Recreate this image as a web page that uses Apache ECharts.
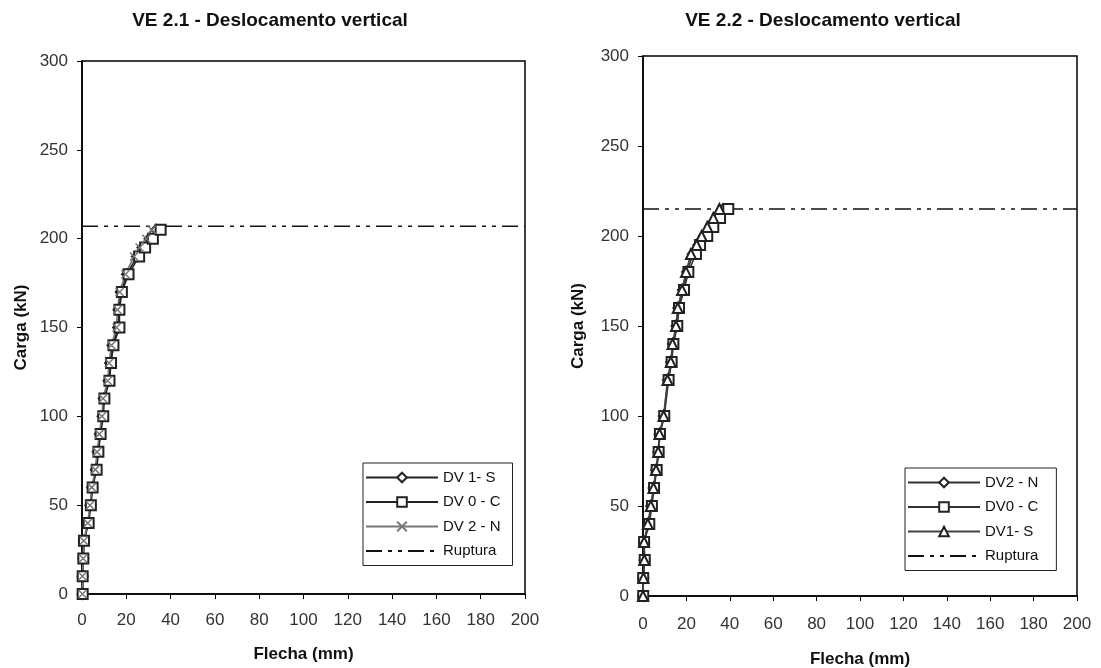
<!DOCTYPE html>
<html><head><meta charset="utf-8">
<script src="https://cdn.jsdelivr.net/npm/echarts@6/dist/echarts.min.js"></script>
<style>html,body{margin:0;padding:0;background:#fff}#c{width:1101px;height:668px}</style>
</head><body><div id="c"></div>
<script>
// ---- Data: VE 2.1 (left) ----
const leftTitle = 'VE 2.1 - Deslocamento vertical';
const leftLoad = [0,10,20,30,40,50,60,70,80,90,100,110,120,130,140,150,160,170,180,190,195,200,205];
const leftDV1S = [0.3,0.3,0.6,0.9,2.8,3.8,4.6,6.3,7.1,8.1,9.3,9.8,12.0,12.7,13.8,16.3,16.5,17.5,20.3,24.8,27.3,30.5,33.5];
const leftDV0C = [0.3,0.3,0.6,0.9,3.0,4.0,4.8,6.6,7.4,8.4,9.6,10.1,12.4,13.1,14.2,16.9,16.9,18.0,21.0,25.8,28.5,32.0,35.5];
const leftDV2N = [0.2,0.2,0.5,0.8,2.6,3.6,4.4,6.0,6.8,7.8,9.0,9.5,11.6,12.2,13.3,15.6,16.0,17.0,19.6,23.5,26.0,29.0,31.5];
const leftRupture = 207;
const leftNames = ['DV 1- S','DV 0 - C','DV 2 - N','Ruptura'];

// ---- Data: VE 2.2 (right) ----
const rightTitle = 'VE 2.2 - Deslocamento vertical';
const rightLoad = [0,10,20,30,40,50,60,70,80,90,100,120,130,140,150,160,170,180,190,195,200,205,210,215];
const rightDV2N = [0.1,0.1,0.7,0.5,2.5,3.8,4.9,6.1,7.1,7.7,9.6,11.5,13.0,13.8,15.5,16.3,18.4,20.3,23.0,25.5,28.0,31.0,34.0,37.0];
const rightDV0C = [0.1,0.1,0.8,0.5,2.9,4.1,5.1,6.3,7.2,7.8,9.8,11.8,13.2,14.0,15.8,16.6,18.9,20.9,24.4,26.3,29.6,32.4,35.5,39.3];
const rightDV1S = [0.0,0.2,0.6,0.5,2.2,3.6,4.8,6.0,7.0,7.6,9.5,11.3,12.8,13.6,15.2,16.0,18.0,19.8,22.1,24.7,27.0,29.6,32.4,35.2];
const rightRupture = 215;
const rightNames = ['DV2 - N','DV0 - C','DV1- S','Ruptura'];

const xTicks = {min:0,max:200,interval:20};
const yTicks = {min:0,max:300,interval:50};
const xName = 'Flecha (mm)';
const yName = 'Carga (kN)';

function pairs(xs, ys){ return xs.map((x,i)=>[x, ys[i]]); }

const FONT = 'Liberation Sans, Arial, sans-serif';
const crossPath = 'path://M0,0L10,10M10,0L0,10';
const ruptDash = [16,6,4,6,4,6];

function mkSeries(name, data, symbol, idx, lineColor, symSize){
  const isCross = symbol === crossPath;
  return {
    name, type:'line', data, xAxisIndex:idx, yAxisIndex:idx,
    symbol, symbolSize: symSize || 10, showSymbol:true,
    lineStyle:{color:lineColor, width:1.6},
    itemStyle: isCross ? {color:'none', borderColor:lineColor, borderWidth:1.5}
                       : {color:'#fff', borderColor:'#222', borderWidth:2},
    emphasis:{disabled:true}, animation:false, z: 3
  };
}
function ruptSeries(val, idx){
  return {
    name:'Ruptura', type:'line', xAxisIndex:idx, yAxisIndex:idx,
    data:[[0,val],[200,val]], symbol:'none',
    lineStyle:{color:'#111', width:1.6, type:ruptDash},
    itemStyle:{color:'rgba(0,0,0,0)', borderColor:'rgba(0,0,0,0)'}, animation:false, z:2
  };
}

function xAxis(idx, gap, margin){
  return {gridIndex:idx, type:'value', ...xTicks, name:xName, nameLocation:'middle', nameGap:gap,
    nameTextStyle:{fontFamily:FONT, fontWeight:'bold', fontSize:17, color:'#111'},
    axisLine:{show:true, onZero:false, lineStyle:{color:'#000', width:1.5}},
    axisTick:{show:true, length:5, lineStyle:{color:'#000'}},
    axisLabel:{fontFamily:FONT, fontSize:17, color:'#333', margin},
    splitLine:{show:false}};
}
function yAxis(idx, gap){
  return {gridIndex:idx, type:'value', ...yTicks, name:yName, nameLocation:'middle', nameGap:gap, nameRotate:90,
    nameTextStyle:{fontFamily:FONT, fontWeight:'bold', fontSize:17, color:'#111'},
    axisLine:{show:true, onZero:false, lineStyle:{color:'#000', width:1.5}},
    axisTick:{show:true, length:5, lineStyle:{color:'#000'}},
    axisLabel:{fontFamily:FONT, fontSize:17, color:'#333', margin:14},
    splitLine:{show:false}};
}
function legend(names, left, top, padR){
  return {orient:'vertical', left, top, data:names, itemWidth:72, itemHeight:12, itemGap:9.5,
    padding:[7,padR,7,2], borderColor:'#222', borderWidth:1, backgroundColor:'#fff',
    textStyle:{fontFamily:FONT, fontSize:15, color:'#111'}, selectedMode:false};
}

const option = {
  backgroundColor:'#fff',
  animation:false,
  title:[
    {text:leftTitle, left:265, top:6, textAlign:'center', textStyle:{fontFamily:FONT, fontWeight:'bold', fontSize:19, color:'#111'}},
    {text:rightTitle, left:818, top:6, textAlign:'center', textStyle:{fontFamily:FONT, fontWeight:'bold', fontSize:19, color:'#111'}}
  ],
  grid:[
    {left:82, top:61, width:443, height:533, show:true, borderColor:'#000', borderWidth:1.5, backgroundColor:'transparent', outerBoundsMode:'none', containLabel:false},
    {left:643, top:56, width:434, height:540, show:true, borderColor:'#000', borderWidth:1.5, backgroundColor:'transparent', outerBoundsMode:'none', containLabel:false}
  ],
  xAxis:[xAxis(0,52,18), xAxis(1,55,20)],
  yAxis:[yAxis(0,52), yAxis(1,56)],
  legend:[legend(leftNames, 363, 463, 12), legend(rightNames, 905, 468, 18)],
  series:[
    mkSeries(leftNames[0], pairs(leftDV1S,leftLoad), 'diamond', 0, '#222'),
    mkSeries(leftNames[1], pairs(leftDV0C,leftLoad), 'rect', 0, '#222'),
    mkSeries(leftNames[2], pairs(leftDV2N,leftLoad), crossPath, 0, '#777', 8),
    ruptSeries(leftRupture, 0),
    mkSeries(rightNames[0], pairs(rightDV2N,rightLoad), 'diamond', 1, '#333'),
    mkSeries(rightNames[1], pairs(rightDV0C,rightLoad), 'rect', 1, '#333'),
    mkSeries(rightNames[2], pairs(rightDV1S,rightLoad), 'triangle', 1, '#444'),
    ruptSeries(rightRupture, 1)
  ]
};
const chart = echarts.init(document.getElementById('c'), null, {renderer:'canvas'});
chart.setOption(option);
</script></body></html>
